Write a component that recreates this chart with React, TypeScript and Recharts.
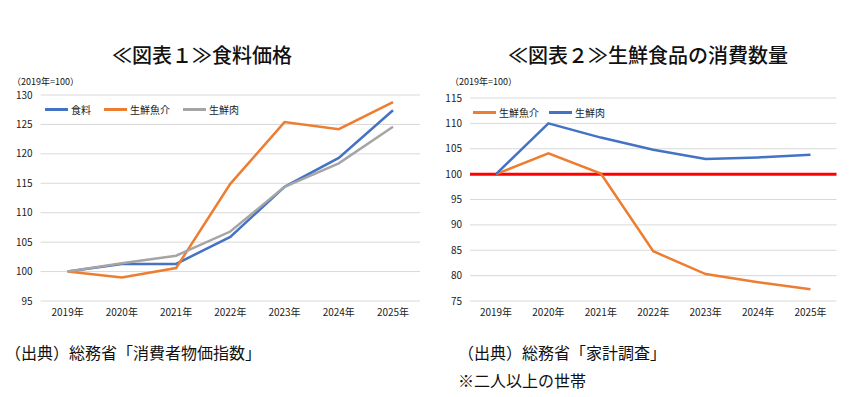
import React from "react";
import {
  LineChart,
  Line,
  XAxis,
  YAxis,
  CartesianGrid,
  Legend,
  ReferenceLine,
} from "recharts";

const years = ["2019年", "2020年", "2021年", "2022年", "2023年", "2024年", "2025年"];

// 図表1: 食料価格 (2019年=100)
const foodPrice = [100, 101.3, 101.3, 105.9, 114.4, 119.3, 127.4];
const seafoodPrice = [100, 99.0, 100.6, 114.9, 125.4, 124.2, 128.8];
const meatPrice = [100, 101.4, 102.7, 106.8, 114.4, 118.4, 124.6];
const priceTicks = [95, 100, 105, 110, 115, 120, 125, 130];

// 図表2: 生鮮食品の消費数量 (2019年=100)
const seafoodQty = [100, 104.1, 100.1, 84.8, 80.3, 78.7, 77.3];
const meatQty = [100, 110.0, 107.2, 104.8, 103.0, 103.3, 103.8];
const qtyTicks = [75, 80, 85, 90, 95, 100, 105, 110, 115];

const FONT = '"Noto Sans CJK JP", "Noto Sans", sans-serif';
const BLUE = "#4472C4";
const ORANGE = "#ED7D31";
const GRAY = "#A5A5A5";

const priceData = years.map((y, i) => ({
  year: y,
  food: foodPrice[i],
  seafood: seafoodPrice[i],
  meat: meatPrice[i],
}));

const qtyData = years.map((y, i) => ({
  year: y,
  seafood: seafoodQty[i],
  meat: meatQty[i],
}));

const priceLegend = [
  { name: "食料", color: BLUE },
  { name: "生鮮魚介", color: ORANGE },
  { name: "生鮮肉", color: GRAY },
];
const qtyLegend = [
  { name: "生鮮魚介", color: ORANGE },
  { name: "生鮮肉", color: BLUE },
];

const tickStyle = { fontSize: 10, fill: "#222", fontFamily: FONT };

// legend drawn from a fixed list so the order matches the original
function LegendBox({ items, gap }: { items: { name: string; color: string }[]; gap: number }) {
  return (
    <div style={{ display: "flex", alignItems: "center", fontFamily: FONT, fontSize: 10, color: "#222" }}>
      {items.map((p) => (
        <div key={p.name} style={{ display: "flex", alignItems: "center", marginRight: gap }}>
          <span style={{ display: "inline-block", width: 23, height: 3, background: p.color, marginRight: 3 }} />
          <span>{p.name}</span>
        </div>
      ))}
    </div>
  );
}

const abs = (left: number, top: number, size: number, extra = {}) => ({
  position: "absolute" as const,
  left,
  top,
  fontSize: size,
  fontFamily: FONT,
  color: "#111",
  whiteSpace: "nowrap" as const,
  lineHeight: 1,
  ...extra,
});

export default function App() {
  return (
    <div style={{ position: "absolute", left: 0, top: 0, width: 850, height: 397, background: "#fff", overflow: "hidden" }}>
      <div style={abs(112, 45, 20, { fontWeight: 500 })}>≪図表１≫食料価格</div>
      <div style={abs(508, 45, 20, { fontWeight: 500 })}>≪図表２≫生鮮食品の消費数量</div>
      <div style={abs(12, 77, 9)}>（2019年=100）</div>
      <div style={abs(450, 77, 9)}>（2019年=100）</div>

      <div style={{ position: "absolute", left: 0, top: 0 }}>
        {/* top margin leaves room for the legend, which recharts adds to the offset */}
        <LineChart width={430} height={330} data={priceData} margin={{ top: 80, right: 10, left: 0, bottom: 9 }}>
          <CartesianGrid horizontal vertical={false} stroke="#d9d9d9" />
          <XAxis
            dataKey="year"
            axisLine={false}
            tickLine={false}
            tick={tickStyle}
            height={20}
            interval={0}
            padding={{ left: 27, right: 27 }}
          />
          <YAxis
            domain={[95, 130]}
            ticks={priceTicks}
            axisLine={false}
            tickLine={false}
            tick={tickStyle}
            width={40.6}
            interval={0}
          />
          <Legend
            verticalAlign="top"
            align="left"
            content={() => <LegendBox items={priceLegend} gap={13} />}
            wrapperStyle={{ top: 102, left: 45, width: "auto" }}
          />
          <Line name="食料" dataKey="food" stroke={BLUE} strokeWidth={2.5} dot={false} isAnimationActive={false} />
          <Line name="生鮮魚介" dataKey="seafood" stroke={ORANGE} strokeWidth={2.5} dot={false} isAnimationActive={false} />
          <Line name="生鮮肉" dataKey="meat" stroke={GRAY} strokeWidth={2.5} dot={false} isAnimationActive={false} />
        </LineChart>
      </div>

      <div style={{ position: "absolute", left: 430, top: 0 }}>
        <LineChart width={420} height={330} data={qtyData} margin={{ top: 83, right: 13.5, left: 0, bottom: 9 }}>
          <CartesianGrid horizontal vertical={false} stroke="#d9d9d9" />
          <XAxis
            dataKey="year"
            axisLine={false}
            tickLine={false}
            tick={tickStyle}
            height={20}
            interval={0}
            padding={{ left: 26, right: 26 }}
          />
          <YAxis
            domain={[75, 115]}
            ticks={qtyTicks}
            axisLine={false}
            tickLine={false}
            tick={tickStyle}
            width={40}
            interval={0}
          />
          <Legend
            verticalAlign="top"
            align="left"
            content={() => <LegendBox items={qtyLegend} gap={10} />}
            wrapperStyle={{ top: 105, left: 43, width: "auto" }}
          />
          <ReferenceLine y={100} stroke="#FF0000" strokeWidth={3} />
          <Line name="生鮮魚介" dataKey="seafood" stroke={ORANGE} strokeWidth={2.5} dot={false} isAnimationActive={false} />
          <Line name="生鮮肉" dataKey="meat" stroke={BLUE} strokeWidth={2.5} dot={false} isAnimationActive={false} />
        </LineChart>
      </div>

      <div style={abs(5, 344, 16)}>（出典）総務省「消費者物価指数」</div>
      <div style={abs(458, 344, 16)}>（出典）総務省「家計調査」</div>
      <div style={abs(458, 372, 16)}>※二人以上の世帯</div>
    </div>
  );
}
